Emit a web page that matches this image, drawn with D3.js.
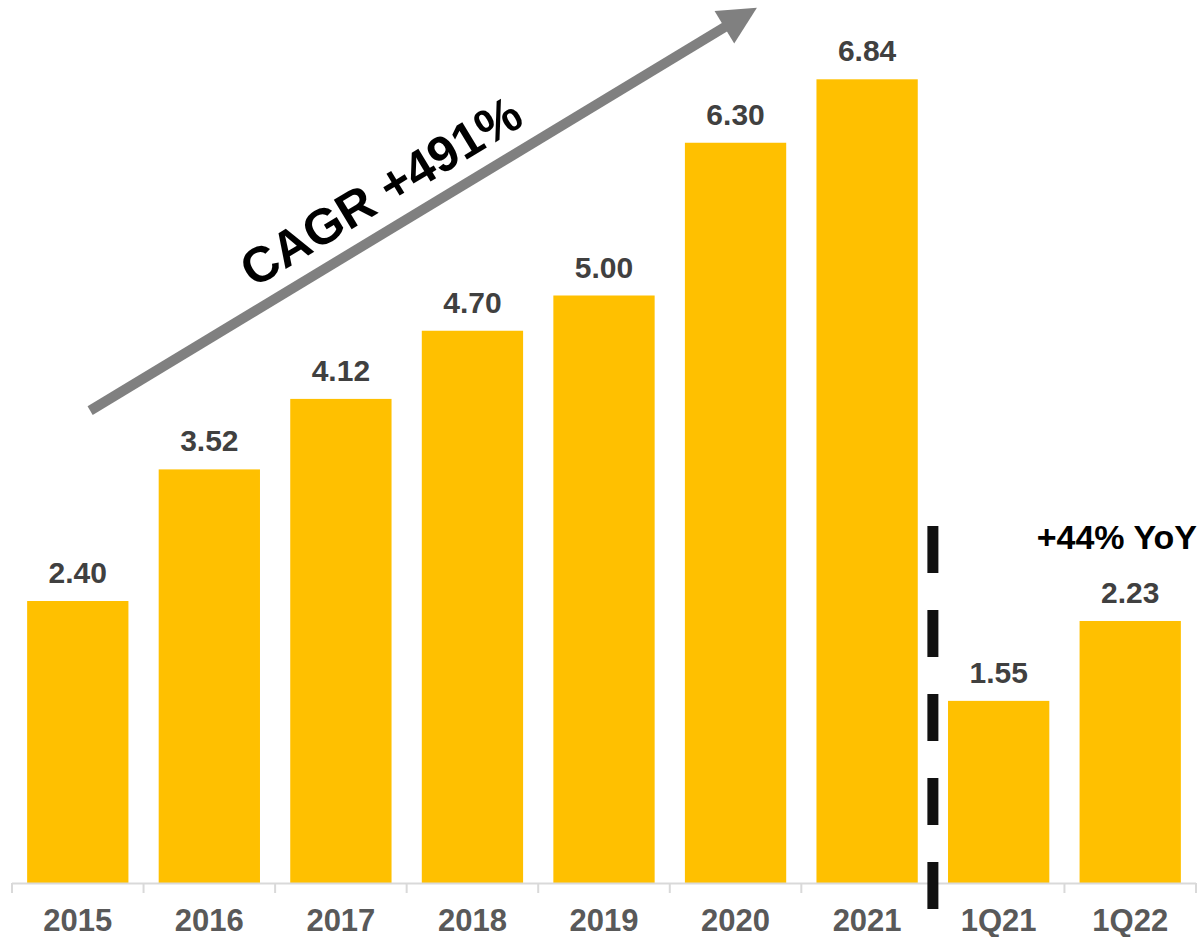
<!DOCTYPE html>
<html lang="en">
<head>
<meta charset="utf-8">
<title>CAGR bar chart</title>
<script src="https://cdn.jsdelivr.net/npm/d3@7"></script>
<style>
  body { margin: 0; background: #fff; }
  text { font-family: "Liberation Sans", Arial, Helvetica, sans-serif; font-weight: bold; }
</style>
</head>
<body>
<script>
// data
var categories = ["2015", "2016", "2017", "2018", "2019", "2020", "2021", "1Q21", "1Q22"];
var values = [2.40, 3.52, 4.12, 4.70, 5.00, 6.30, 6.84, 1.55, 2.23];
var valueLabels = ["2.40", "3.52", "4.12", "4.70", "5.00", "6.30", "6.84", "1.55", "2.23"];
var cagrText = "CAGR +491%";
var yoyText = "+44% YoY";

var w = 1204, h = 937;
var left = 12, right = 1196, baseY = 883;

var svg = d3.select("body").append("svg")
  .attr("width", w).attr("height", h);

// scales
var x = d3.scaleBand().domain(categories).range([left, right])
  .paddingInner(0.23).paddingOuter(0.115);
var y = d3.scaleLinear().domain([0, baseY / 117.5]).range([baseY, 0]);

// bars
svg.selectAll("rect.bar").data(values).enter().append("rect")
  .attr("class", "bar")
  .attr("x", function(d, i) { return x(categories[i]); })
  .attr("y", function(d) { return y(d); })
  .attr("width", x.bandwidth())
  .attr("height", function(d) { return y(0) - y(d); })
  .attr("fill", "#FFC000");

// value labels
svg.selectAll("text.val").data(values).enter().append("text")
  .attr("class", "val")
  .attr("x", function(d, i) { return x(categories[i]) + x.bandwidth() / 2; })
  .attr("y", function(d) { return y(d) - 18; })
  .attr("text-anchor", "middle")
  .attr("font-size", 30)
  .attr("fill", "#404040")
  .text(function(d, i) { return valueLabels[i]; });

// x axis line and ticks
var step = x.step();
var axis = svg.append("g");
axis.append("line")
  .attr("x1", left).attr("x2", right)
  .attr("y1", baseY + 0.5).attr("y2", baseY + 0.5)
  .attr("stroke", "#d9d9d9").attr("stroke-width", 2);
d3.range(categories.length + 1).forEach(function(i) {
  var tx = left + i * step;
  axis.append("line")
    .attr("x1", tx).attr("x2", tx)
    .attr("y1", baseY).attr("y2", baseY + 10)
    .attr("stroke", "#d9d9d9").attr("stroke-width", 2);
});
svg.selectAll("text.cat").data(categories).enter().append("text")
  .attr("class", "cat")
  .attr("x", function(d) { return x(d) + x.bandwidth() / 2; })
  .attr("y", 931)
  .attr("text-anchor", "middle")
  .attr("font-size", 31)
  .attr("fill", "#595959")
  .text(function(d) { return d; });

// dashed divider between 2021 and 1Q21
var divX = x("1Q21") - (step - x.bandwidth()) / 2;
svg.append("line")
  .attr("x1", divX).attr("x2", divX)
  .attr("y1", 526).attr("y2", 910)
  .attr("stroke", "#111").attr("stroke-width", 11)
  .attr("stroke-dasharray", "47 37");

// yoy label
svg.append("text")
  .attr("x", 1197).attr("y", 549)
  .attr("text-anchor", "end")
  .attr("font-size", 34)
  .attr("fill", "#000")
  .text(yoyText);

// growth arrow
var ax0 = x("2015") + 63, ay0 = y(4.02);
var ax1 = x("2020") + 72, ay1 = y(7.45);
var dx = ax1 - ax0, dy = ay1 - ay0, len = Math.sqrt(dx * dx + dy * dy);
var ux = dx / len, uy = dy / len, px = -uy, py = ux;
var headLen = 38, headHalf = 19;
var bx = ax1 - ux * headLen, by = ay1 - uy * headLen;
svg.append("line")
  .attr("x1", ax0).attr("y1", ay0)
  .attr("x2", bx + ux * 2).attr("y2", by + uy * 2)
  .attr("stroke", "#808080").attr("stroke-width", 10);
svg.append("path")
  .attr("d", "M" + ax1 + "," + ay1 +
    "L" + (bx + px * headHalf) + "," + (by + py * headHalf) +
    "L" + (bx - px * headHalf) + "," + (by - py * headHalf) + "Z")
  .attr("fill", "#808080");

var angle = Math.atan2(dy, dx) * 180 / Math.PI;
var t = 0.465;
var tx = ax0 + dx * t - px * 20, ty = ay0 + dy * t - py * 20;
svg.append("text")
  .attr("transform", "translate(" + tx + "," + ty + ") rotate(" + angle + ")")
  .attr("text-anchor", "middle")
  .attr("font-size", 50)
  .attr("fill", "#000")
  .text(cagrText);
</script>
</body>
</html>
